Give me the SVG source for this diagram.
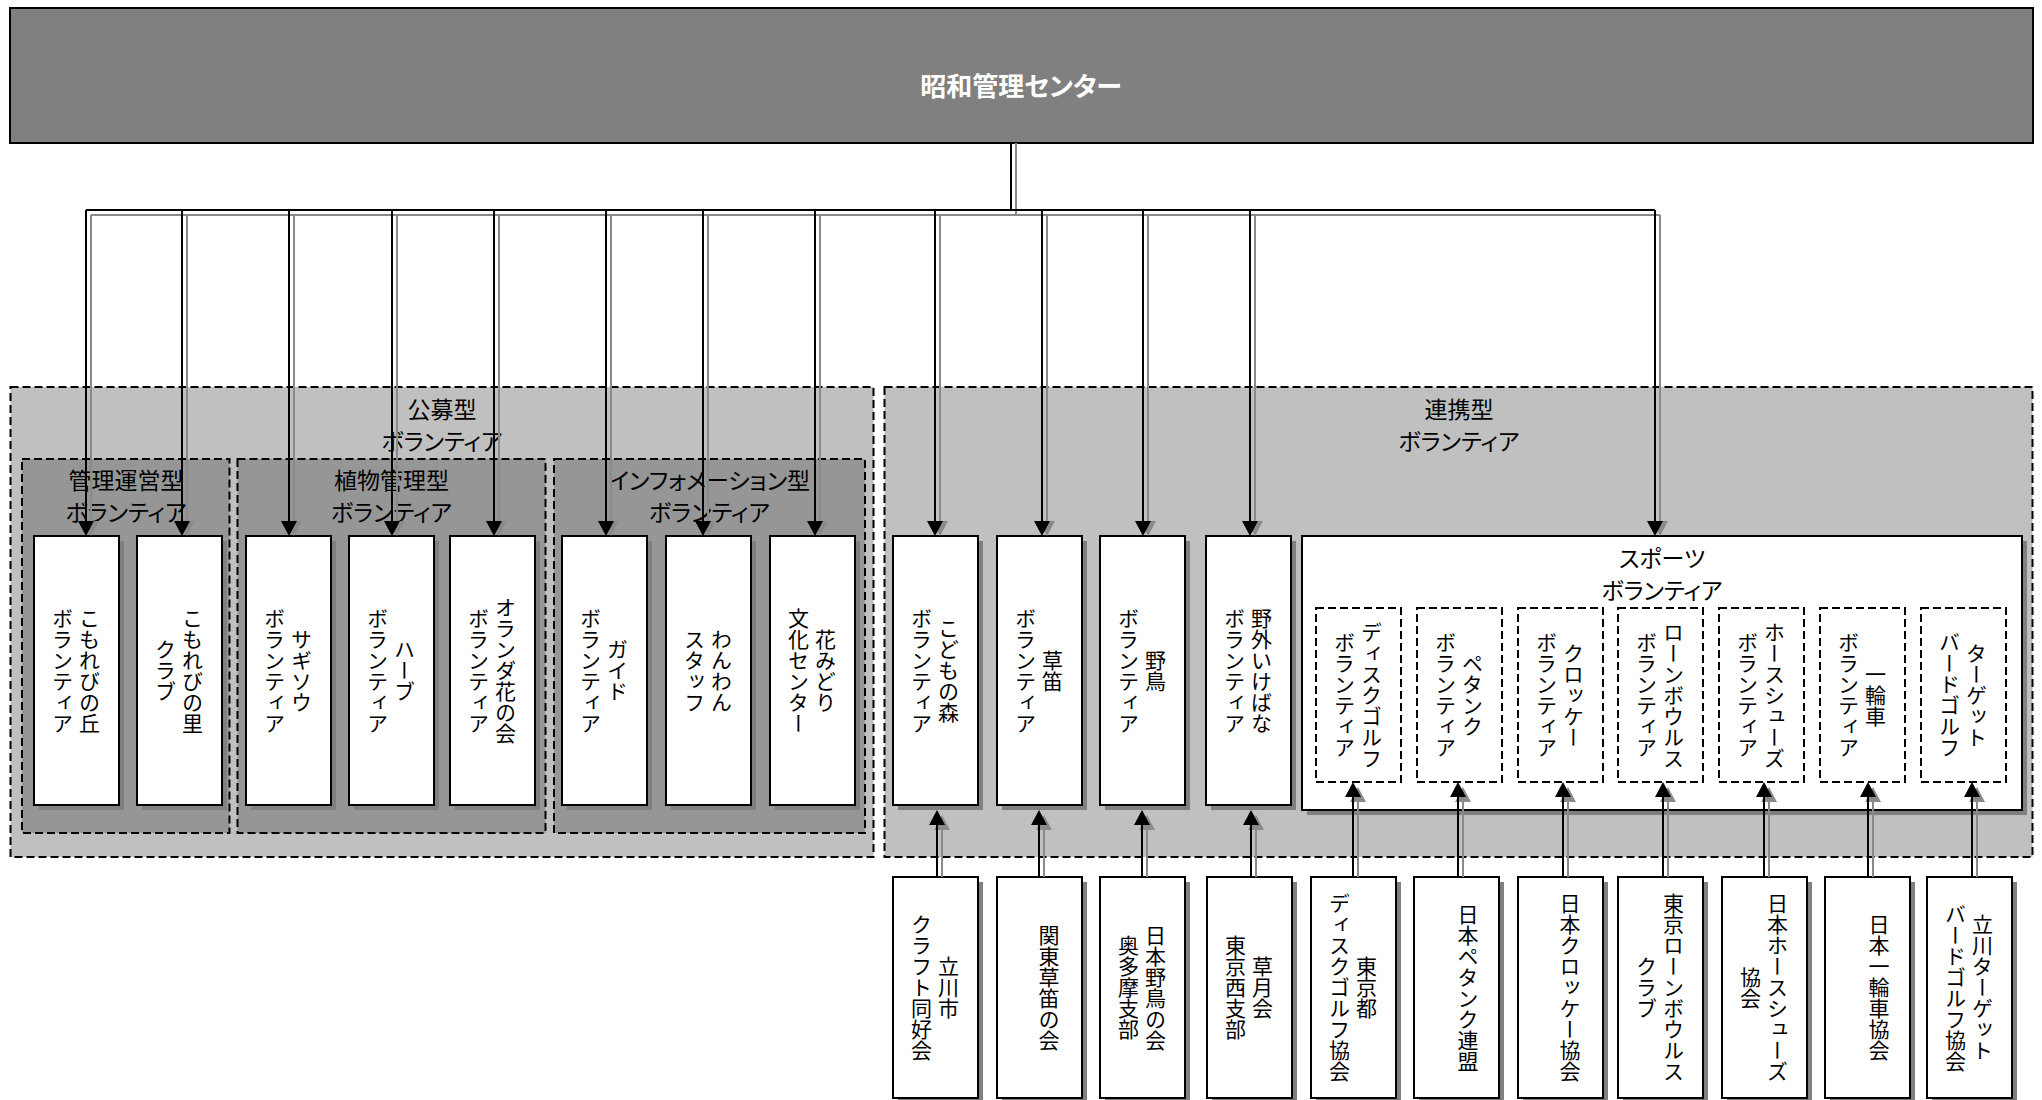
<svg xmlns="http://www.w3.org/2000/svg" width="2042" height="1100" viewBox="0 0 2042 1100">
<style>
.top{fill:#808080;stroke:#000;stroke-width:2}
.g1{fill:#c0c0c0;stroke:#000;stroke-width:2;stroke-dasharray:8 4}
.g2{fill:#969696;stroke:#000;stroke-width:2;stroke-dasharray:8 4}
.box{fill:#fff;stroke:#000;stroke-width:2}
.sub{fill:#fff;stroke:#000;stroke-width:2;stroke-dasharray:8 4}
.shd{fill:#808080}
.ht{font-family:"Noto Sans CJK JP","Noto Sans",sans-serif;font-size:23px;text-anchor:middle;dominant-baseline:central;font-feature-settings:"palt" 1;fill:#000}
.tt{font-family:"Noto Sans CJK JP","Noto Sans",sans-serif;font-size:26px;font-weight:bold;text-anchor:middle;dominant-baseline:central;font-feature-settings:"palt" 1;fill:#fff}
.vt{font-family:"Noto Sans CJK JP","Noto Sans",sans-serif;font-size:21px;writing-mode:vertical-rl;text-anchor:middle;fill:#000}
.ln{fill:none;stroke:#000;stroke-width:2}
.ls{fill:none;stroke:#8a8a8a;stroke-width:2}
.ad{marker-end:url(#ah)}
.as{marker-end:url(#ahs)}
</style>
<defs>
<marker id="ah" markerUnits="userSpaceOnUse" markerWidth="15" markerHeight="16" refX="0" refY="8" orient="auto" overflow="visible"><path d="M0,0 L15,8 L0,16 z" fill="#000"/></marker>
<marker id="ahs" markerUnits="userSpaceOnUse" markerWidth="15" markerHeight="16" refX="0" refY="8" orient="auto" overflow="visible"><path d="M0,0 L15,8 L0,16 z" fill="#8a8a8a"/></marker>
</defs>
<rect width="2042" height="1100" fill="#fff"/>

<g id="center">
<rect class="top" x="10" y="8" width="2023" height="135"/>
<text class="tt" x="1021" y="84">昭和管理センター</text>
</g>

<g id="group-koubo">
<rect class="g1" x="10.5" y="387" width="863" height="470"/>
<text class="ht" x="442" y="408">公募型</text>
<text class="ht" x="442" y="440">ボランティア</text>
</g>
<g id="group-renkei">
<rect class="g1" x="884.5" y="387" width="1148" height="470"/>
<text class="ht" x="1459" y="408">連携型</text>
<text class="ht" x="1459" y="440">ボランティア</text>
</g>
<g id="group-kanri">
<rect class="g2" x="22" y="459" width="207.5" height="374"/>
<text class="ht" x="126" y="479">管理運営型</text>
<text class="ht" x="126" y="511">ボランティア</text>
</g>
<g id="group-shokubutsu">
<rect class="g2" x="237.5" y="459" width="308" height="374"/>
<text class="ht" x="391.5" y="479">植物管理型</text>
<text class="ht" x="391.5" y="511">ボランティア</text>
</g>
<g id="group-info">
<rect class="g2" x="554" y="459" width="311" height="374"/>
<text class="ht" x="709.5" y="479">インフォメーション型</text>
<text class="ht" x="709.5" y="511">ボランティア</text>
</g>

<g id="n1"><rect class="shd" x="39" y="541" width="85" height="269"/><rect class="box" x="34" y="536" width="85" height="269"/>
<text class="vt" x="89.5" y="670.5">こもれびの丘</text><text class="vt" x="62.5" y="670.5">ボランティア</text></g>
<g id="n2"><rect class="shd" x="142" y="541" width="85" height="269"/><rect class="box" x="137" y="536" width="85" height="269"/>
<text class="vt" x="192.5" y="670.5">こもれびの里</text><text class="vt" x="165.5" y="670.5">クラブ</text></g>
<g id="n3"><rect class="shd" x="251" y="541" width="85" height="269"/><rect class="box" x="246" y="536" width="85" height="269"/>
<text class="vt" x="301.5" y="670.5">サギソウ</text><text class="vt" x="274.5" y="670.5">ボランティア</text></g>
<g id="n4"><rect class="shd" x="354" y="541" width="85" height="269"/><rect class="box" x="349" y="536" width="85" height="269"/>
<text class="vt" x="404.5" y="670.5">ハーブ</text><text class="vt" x="377.5" y="670.5">ボランティア</text></g>
<g id="n5"><rect class="shd" x="455" y="541" width="85" height="269"/><rect class="box" x="450" y="536" width="85" height="269"/>
<text class="vt" x="505.5" y="670.5">オランダ花の会</text><text class="vt" x="478.5" y="670.5">ボランティア</text></g>
<g id="n6"><rect class="shd" x="567" y="541" width="85" height="269"/><rect class="box" x="562" y="536" width="85" height="269"/>
<text class="vt" x="617.5" y="670.5">ガイド</text><text class="vt" x="590.5" y="670.5">ボランティア</text></g>
<g id="n7"><rect class="shd" x="671" y="541" width="85" height="269"/><rect class="box" x="666" y="536" width="85" height="269"/>
<text class="vt" x="721.5" y="670.5">わんわん</text><text class="vt" x="694.5" y="670.5">スタッフ</text></g>
<g id="n8"><rect class="shd" x="775" y="541" width="85" height="269"/><rect class="box" x="770" y="536" width="85" height="269"/>
<text class="vt" x="825.5" y="670.5">花みどり</text><text class="vt" x="798.5" y="670.5">文化センター</text></g>
<g id="n9"><rect class="shd" x="898" y="541" width="85" height="269"/><rect class="box" x="893" y="536" width="85" height="269"/>
<text class="vt" x="948.5" y="670.5">こどもの森</text><text class="vt" x="921.5" y="670.5">ボランティア</text></g>
<g id="n10"><rect class="shd" x="1002" y="541" width="85" height="269"/><rect class="box" x="997" y="536" width="85" height="269"/>
<text class="vt" x="1052.5" y="670.5">草笛</text><text class="vt" x="1025.5" y="670.5">ボランティア</text></g>
<g id="n11"><rect class="shd" x="1105" y="541" width="85" height="269"/><rect class="box" x="1100" y="536" width="85" height="269"/>
<text class="vt" x="1155.5" y="670.5">野鳥</text><text class="vt" x="1128.5" y="670.5">ボランティア</text></g>
<g id="n12"><rect class="shd" x="1211" y="541" width="85" height="269"/><rect class="box" x="1206" y="536" width="85" height="269"/>
<text class="vt" x="1261.5" y="670.5">野外いけばな</text><text class="vt" x="1234.5" y="670.5">ボランティア</text></g>

<g id="sports">
<rect class="shd" x="1307" y="541" width="720" height="274"/><rect class="box" x="1302" y="536" width="720" height="274"/>
<text class="ht" x="1662" y="557">スポーツ</text>
<text class="ht" x="1662" y="589">ボランティア</text>
</g>
<g id="s1"><rect class="sub" x="1316" y="608" width="85" height="174"/>
<text class="vt" x="1371.5" y="695">ディスクゴルフ</text><text class="vt" x="1344.5" y="695">ボランティア</text></g>
<g id="s2"><rect class="sub" x="1417" y="608" width="85" height="174"/>
<text class="vt" x="1472.5" y="695">ペタンク</text><text class="vt" x="1445.5" y="695">ボランティア</text></g>
<g id="s3"><rect class="sub" x="1518" y="608" width="85" height="174"/>
<text class="vt" x="1573.5" y="695">クロッケー</text><text class="vt" x="1546.5" y="695">ボランティア</text></g>
<g id="s4"><rect class="sub" x="1618" y="608" width="85" height="174"/>
<text class="vt" x="1673.5" y="695">ローンボウルス</text><text class="vt" x="1646.5" y="695">ボランティア</text></g>
<g id="s5"><rect class="sub" x="1719" y="608" width="85" height="174"/>
<text class="vt" x="1774.5" y="695">ホースシューズ</text><text class="vt" x="1747.5" y="695">ボランティア</text></g>
<g id="s6"><rect class="sub" x="1820" y="608" width="85" height="174"/>
<text class="vt" x="1875.5" y="695">一輪車</text><text class="vt" x="1848.5" y="695">ボランティア</text></g>
<g id="s7"><rect class="sub" x="1921" y="608" width="85" height="174"/>
<text class="vt" x="1976.5" y="695">ターゲット</text><text class="vt" x="1949.5" y="695">バードゴルフ</text></g>

<g id="b1"><rect class="shd" x="898" y="882" width="85" height="221"/><rect class="box" x="893" y="877" width="85" height="221"/>
<text class="vt" x="948.5" y="987.5">立川市</text><text class="vt" x="921.5" y="987.5">クラフト同好会</text></g>
<g id="b2"><rect class="shd" x="1002" y="882" width="85" height="221"/><rect class="box" x="997" y="877" width="85" height="221"/>
<text class="vt" x="1049" y="987.5">関東草笛の会</text></g>
<g id="b3"><rect class="shd" x="1105" y="882" width="85" height="221"/><rect class="box" x="1100" y="877" width="85" height="221"/>
<text class="vt" x="1155.5" y="987.5">日本野鳥の会</text><text class="vt" x="1128.5" y="987.5">奥多摩支部</text></g>
<g id="b4"><rect class="shd" x="1212" y="882" width="85" height="221"/><rect class="box" x="1207" y="877" width="85" height="221"/>
<text class="vt" x="1262.5" y="987.5">草月会</text><text class="vt" x="1235.5" y="987.5">東京西支部</text></g>
<g id="b5"><rect class="shd" x="1316" y="882" width="85" height="221"/><rect class="box" x="1311" y="877" width="85" height="221"/>
<text class="vt" x="1366.5" y="987.5">東京都</text><text class="vt" x="1339.5" y="987.5">ディスクゴルフ協会</text></g>
<g id="b6"><rect class="shd" x="1419" y="882" width="85" height="221"/><rect class="box" x="1414" y="877" width="85" height="221"/>
<text class="vt" x="1468" y="987.5">日本ペタンク連盟</text></g>
<g id="b7"><rect class="shd" x="1523" y="882" width="85" height="221"/><rect class="box" x="1518" y="877" width="85" height="221"/>
<text class="vt" x="1570" y="987.5">日本クロッケー協会</text></g>
<g id="b8"><rect class="shd" x="1623" y="882" width="85" height="221"/><rect class="box" x="1618" y="877" width="85" height="221"/>
<text class="vt" x="1673.5" y="987.5">東京ローンボウルス</text><text class="vt" x="1646.5" y="987.5">クラブ</text></g>
<g id="b9"><rect class="shd" x="1727" y="882" width="85" height="221"/><rect class="box" x="1722" y="877" width="85" height="221"/>
<text class="vt" x="1777.5" y="987.5">日本ホースシューズ</text><text class="vt" x="1750.5" y="987.5">協会</text></g>
<g id="b10"><rect class="shd" x="1830" y="882" width="85" height="221"/><rect class="box" x="1825" y="877" width="85" height="221"/>
<text class="vt" x="1879" y="987.5">日本一輪車協会</text></g>
<g id="b11"><rect class="shd" x="1932" y="882" width="85" height="221"/><rect class="box" x="1927" y="877" width="85" height="221"/>
<text class="vt" x="1982.5" y="987.5">立川ターゲット</text><text class="vt" x="1955.5" y="987.5">バードゴルフ協会</text></g>

<g id="connectors">
<g id="connector-shadows">
<path class="ls" d="M1016 143 V215 M91 215 H1660"/>
<path class="ls as" d="M91 215 V521"/>
<path class="ls as" d="M187 215 V521"/>
<path class="ls as" d="M294 215 V521"/>
<path class="ls as" d="M397 215 V521"/>
<path class="ls as" d="M499 215 V521"/>
<path class="ls as" d="M611 215 V521"/>
<path class="ls as" d="M708 215 V521"/>
<path class="ls as" d="M820 215 V521"/>
<path class="ls as" d="M940 215 V521"/>
<path class="ls as" d="M1047 215 V521"/>
<path class="ls as" d="M1148 215 V521"/>
<path class="ls as" d="M1255 215 V521"/>
<path class="ls as" d="M1660 215 V521"/>
<path class="ls as" d="M942 877 V830"/>
<path class="ls as" d="M1044 877 V830"/>
<path class="ls as" d="M1147 877 V830"/>
<path class="ls as" d="M1256 877 V830"/>
<path class="ls as" d="M1358 877 V802"/>
<path class="ls as" d="M1463 877 V802"/>
<path class="ls as" d="M1568 877 V802"/>
<path class="ls as" d="M1668 877 V802"/>
<path class="ls as" d="M1769 877 V802"/>
<path class="ls as" d="M1873 877 V802"/>
<path class="ls as" d="M1977 877 V802"/>
</g>
<path class="ln" d="M1011 143 V210 M86 210 H1655"/>
<path class="ln ad" d="M86 210 V521"/>
<path class="ln ad" d="M182 210 V521"/>
<path class="ln ad" d="M289 210 V521"/>
<path class="ln ad" d="M392 210 V521"/>
<path class="ln ad" d="M494 210 V521"/>
<path class="ln ad" d="M606 210 V521"/>
<path class="ln ad" d="M703 210 V521"/>
<path class="ln ad" d="M815 210 V521"/>
<path class="ln ad" d="M935 210 V521"/>
<path class="ln ad" d="M1042 210 V521"/>
<path class="ln ad" d="M1143 210 V521"/>
<path class="ln ad" d="M1250 210 V521"/>
<path class="ln ad" d="M1655 210 V521"/>
<path class="ln ad" d="M937 877 V825"/>
<path class="ln ad" d="M1039 877 V825"/>
<path class="ln ad" d="M1142 877 V825"/>
<path class="ln ad" d="M1251 877 V825"/>
<path class="ln ad" d="M1353 877 V797"/>
<path class="ln ad" d="M1458 877 V797"/>
<path class="ln ad" d="M1563 877 V797"/>
<path class="ln ad" d="M1663 877 V797"/>
<path class="ln ad" d="M1764 877 V797"/>
<path class="ln ad" d="M1868 877 V797"/>
<path class="ln ad" d="M1972 877 V797"/>
</g>
</svg>
